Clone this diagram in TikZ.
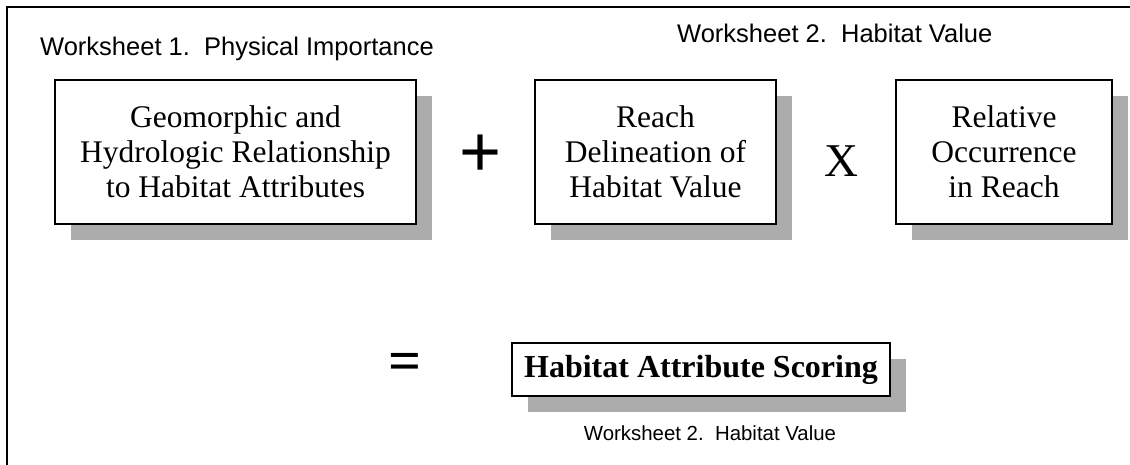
\documentclass[tikz,border=0pt]{standalone}
\usepackage{fontspec}
\setmainfont{Liberation Serif}
\newfontfamily\arialfont{Liberation Sans}
\usetikzlibrary{shadows}
\definecolor{shadegray}{RGB}{172,172,172}
\tikzset{
  wbox/.style={draw=black, line width=1.6pt, fill=white, align=center,
    inner sep=0pt, font=\fontsize{31.5}{35}\selectfont,
    drop shadow={shadow xshift=16pt, shadow yshift=-16pt, fill=shadegray, opacity=1}},
  wlabel/.style={font=\arialfont\fontsize{25.5}{30}\selectfont, inner sep=0pt},
  op/.style={inner sep=0pt}
}
\begin{document}
\begin{tikzpicture}[x=1pt,y=-1pt]
\useasboundingbox (0,0) rectangle (1130,464);
\fill[white] (0,0) rectangle (1130,464);
% outer frame (open to right and bottom)
\draw[line width=1.5pt] (7,480) -- (7,7) -- (1140,7);

\node[wlabel, anchor=base west] (w1) at (40,55) {Worksheet 1.\ \ Physical Importance};
\node[wlabel, anchor=base west] (w2a) at (677,42.5) {Worksheet 2.\ \ Habitat Value};

\node[wbox, minimum width=361pt, minimum height=144pt] (b1) at (235.5,152)
  {Geomorphic and\\Hydrologic Relationship\\to Habitat Attributes};
\node[wbox, minimum width=241pt, minimum height=144pt] (b2) at (655.5,152)
  {Reach\\Delineation of\\Habitat Value};
\node[wbox, minimum width=216pt, minimum height=144pt] (b3) at (1004,152)
  {Relative\\Occurrence\\in Reach};

\node[op, font=\arialfont\fontsize{72}{72}\selectfont] (plus) at (480.5,155.5) {+};
\node[op, font=\fontsize{47}{47}\selectfont] (times) at (841,161) {X};
\node[op, font=\bfseries\fontsize{58}{58}\selectfont] (eq) at (405,367) {=};

\node[wbox, minimum width=378pt, minimum height=53pt, font=\bfseries\fontsize{32}{36}\selectfont] (b4) at (701,369.5)
  {Habitat Attribute Scoring};
\node[wlabel, font=\arialfont\fontsize{20.4}{24}\selectfont] (w2b) at (710,433) {Worksheet 2.\ \ Habitat Value};
\end{tikzpicture}
\end{document}
